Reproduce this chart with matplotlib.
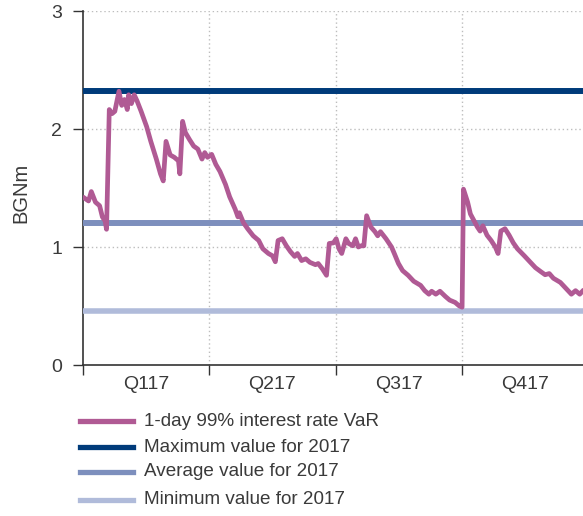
import numpy as np
import matplotlib.pyplot as plt
from matplotlib.lines import Line2D

# --- Daily interest rate VaR, 2017 (day of year, BGN m) ---
var_day = [1, 4, 6, 9, 12, 14, 16, 17, 19, 21, 23, 26, 28, 30, 32, 33, 35, 37, 39, 42,
           46, 49, 53, 55, 56, 58, 60, 63, 66, 69, 70, 72, 74, 77, 80, 83, 86, 88, 90, 93,
           96, 99, 103, 106, 110, 112, 113, 116, 119, 123, 127, 130, 134, 137, 139, 141,
           144, 147, 150, 153, 155, 158, 161, 164, 168, 170, 173, 176, 178, 181, 183, 185,
           187, 190, 192, 195, 197, 199, 201, 203, 205, 208, 211, 213, 215, 219, 223, 225,
           228, 231, 235, 239, 244, 247, 250, 252, 255, 258, 262, 265, 269, 272, 274, 275,
           278, 280, 283, 285, 287, 289, 292, 295, 298, 300, 302, 305, 308, 311, 314, 319,
           323, 327, 331, 334, 337, 340, 345, 349, 353, 356, 359, 361]
var_value = [1.415, 1.39, 1.47, 1.38, 1.35, 1.255, 1.22, 1.15, 2.165, 2.13, 2.15, 2.32,
             2.20, 2.25, 2.165, 2.29, 2.215, 2.29, 2.24, 2.15, 2.02, 1.895, 1.745, 1.66,
             1.62, 1.56, 1.895, 1.78, 1.76, 1.73, 1.62, 2.065, 1.97, 1.91, 1.855, 1.83,
             1.745, 1.80, 1.76, 1.785, 1.70, 1.64, 1.53, 1.425, 1.32, 1.255, 1.29, 1.205,
             1.155, 1.095, 1.055, 0.985, 0.945, 0.925, 0.875, 1.055, 1.07, 1.01, 0.96,
             0.92, 0.945, 0.885, 0.90, 0.87, 0.85, 0.86, 0.815, 0.76, 1.03, 1.035, 1.07,
             0.985, 0.945, 1.07, 1.03, 1.01, 1.07, 1.0, 1.01, 1.01, 1.265, 1.17, 1.13,
             1.095, 1.13, 1.07, 1.0, 0.945, 0.86, 0.80, 0.76, 0.71, 0.675, 0.63, 0.60,
             0.625, 0.60, 0.625, 0.58, 0.55, 0.53, 0.50, 0.49, 1.49, 1.38, 1.28, 1.215,
             1.17, 1.135, 1.18, 1.10, 1.055, 1.0, 0.945, 1.135, 1.155, 1.10, 1.035, 0.985,
             0.925, 0.875, 0.825, 0.79, 0.765, 0.775, 0.735, 0.70, 0.65, 0.60, 0.63, 0.60,
             0.625]

max_2017 = 2.32
avg_2017 = 1.20
min_2017 = 0.46

quarter_labels = ['Q117', 'Q217', 'Q317', 'Q417']
legend_labels = ['1-day 99% interest rate VaR', 'Maximum value for 2017',
                 'Average value for 2017', 'Minimum value for 2017']

# colours
c_var = '#b05a94'
c_max = '#003b7a'
c_avg = '#7d8fbd'
c_min = '#b0bbda'
c_text = '#3a3a3a'

plt.rcParams['font.family'] = ['Liberation Sans', 'DejaVu Sans']

fig = plt.figure(figsize=(5.83, 5.16), dpi=100)
ax = fig.add_axes([83 / 583, 1 - 365 / 516, 505 / 583, 354 / 516])

ax.axhline(max_2017, color=c_max, lw=4.3, zorder=3)
ax.axhline(avg_2017, color=c_avg, lw=4.3, zorder=3)
ax.axhline(min_2017, color=c_min, lw=4.0, zorder=3)
ax.plot(var_day, var_value, color=c_var, lw=3.4, solid_joinstyle='round', zorder=4)

ax.set_xlim(0, 365)
ax.set_ylim(0, 3)

q_edges = np.arange(5) * 365 / 4
ax.set_xticks(q_edges[:4])
ax.set_xticklabels([])
ax.set_xticks((q_edges[:4] + q_edges[1:]) / 2, minor=True)
ax.set_xticklabels(quarter_labels, minor=True)
ax.tick_params(axis='x', which='minor', length=0, pad=8, labelsize=14, labelcolor=c_text)
ax.tick_params(axis='x', which='major', length=7, width=1, color='#333333')

ax.set_yticks([0, 1, 2, 3])
ax.tick_params(axis='y', length=7, width=1, color='#333333', pad=8,
               labelsize=14, labelcolor=c_text)

# dotted gridlines
for y in [1, 2, 3]:
    ax.axhline(y, color='#bdbdbd', lw=1, ls=(0, (1, 2)), zorder=1)
for x in q_edges[1:4]:
    ax.axvline(x, color='#bdbdbd', lw=1, ls=(0, (1, 2)), zorder=1)

for side in ['top', 'right']:
    ax.spines[side].set_visible(False)
for side in ['left', 'bottom']:
    ax.spines[side].set_color('#333333')
    ax.spines[side].set_linewidth(1.2)

ax.set_ylabel('BGNm', fontsize=14.5, color=c_text)
ax.yaxis.set_label_coords(-0.105, 0.485)

# legend below the plot
legend_colors = [c_var, c_max, c_avg, c_min]
row_y = [421, 447, 472, 500]
for label, col, yy in zip(legend_labels, legend_colors, row_y):
    yf = 1 - yy / 516
    fig.add_artist(Line2D([80 / 583, 133 / 583], [yf, yf], color=col, lw=3.8))
    fig.text(144 / 583, yf, label, fontsize=13.6, color=c_text, va='center', ha='left')

fig.savefig('out.png', dpi=100)
